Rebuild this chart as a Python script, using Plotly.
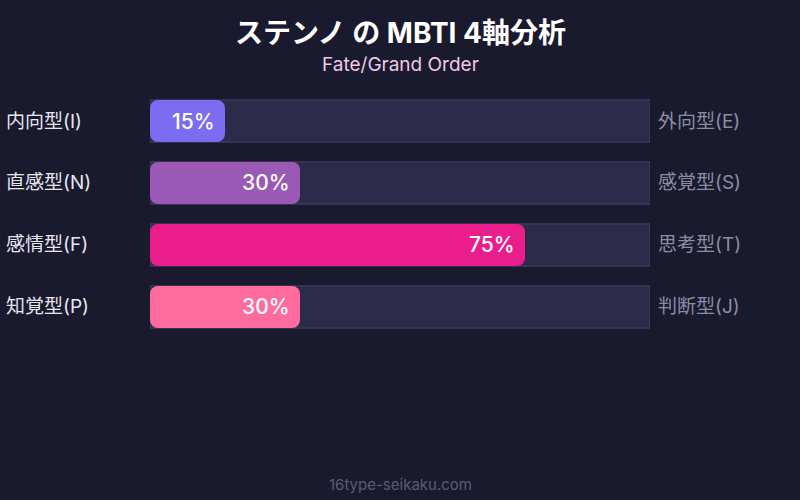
import plotly.graph_objects as go

title = "ステンノ の MBTI 4軸分析"
subtitle = "Fate/Grand Order"
footer = "16type-seikaku.com"

left_labels = ["内向型(I)", "直感型(N)", "感情型(F)", "知覚型(P)"]
right_labels = ["外向型(E)", "感覚型(S)", "思考型(T)", "判断型(J)"]
values = [15, 30, 75, 30]
colors = ["#7b6cf2", "#9b59b6", "#e91e8c", "#ff6b9d"]

font_main = "Inter, 'Noto Sans CJK JP', sans-serif"
rows = list(range(len(values)))
bar_w = 0.68

fig = go.Figure()

# background tracks as shapes behind the bars
for i in rows:
    fig.add_shape(type="rect", xref="x", yref="y", x0=0, x1=100,
                  y0=i - bar_w / 2, y1=i + bar_w / 2, layer="below",
                  fillcolor="#2d2b4a", line=dict(color="#44446a", width=1))

# value bars; explicit base so both ends are rounded
fig.add_trace(go.Bar(
    x=values, base=[0] * len(values), y=rows, orientation="h", width=bar_w,
    marker=dict(color=colors, cornerradius=8, line=dict(width=0)),
    hoverinfo="skip", showlegend=False,
))

for i, v in enumerate(values):
    fig.add_annotation(x=v, y=i, xref="x", yref="y", text=f"{v}%",
                       showarrow=False, xanchor="right", xshift=-8,
                       font=dict(size=21, color="white", family=font_main, weight=500))
    fig.add_annotation(x=-150 / 500, y=i, xref="x domain", yref="y", text=left_labels[i],
                       showarrow=False, xanchor="left", xshift=4,
                       font=dict(size=19, color="#e6e6ee", family=font_main))
    fig.add_annotation(x=1, y=i, xref="x domain", yref="y", text=right_labels[i],
                       showarrow=False, xanchor="left", xshift=6,
                       font=dict(size=19, color="#8c8ca4", family=font_main))

fig.add_annotation(x=0.5, y=-0.5, xref="paper", yref="y", yshift=57, text=title,
                   showarrow=False,
                   font=dict(size=28, color="white", family=font_main, weight=700))
fig.add_annotation(x=0.5, y=-0.5, xref="paper", yref="y", yshift=26, text=subtitle,
                   showarrow=False, font=dict(size=19, color="#f0c8e8", family=font_main))
fig.add_annotation(x=0.5, y=0, xref="paper", yref="paper", yshift=6, yanchor="middle",
                   text=footer, showarrow=False,
                   font=dict(size=15, color="#5a5a78", family=font_main))

fig.update_layout(
    width=800, height=500,
    margin=dict(l=150, r=150, t=90, b=10),
    paper_bgcolor="#1a1a2e", plot_bgcolor="#1a1a2e",
    barmode="overlay",
    showlegend=False,
    xaxis=dict(range=[0, 100], visible=False, fixedrange=True),
    yaxis=dict(range=[5.952, -0.5], visible=False, fixedrange=True),
)

fig.write_html("out.html", config={"displayModeBar": False},
               post_script="document.body.style.margin='0';")
